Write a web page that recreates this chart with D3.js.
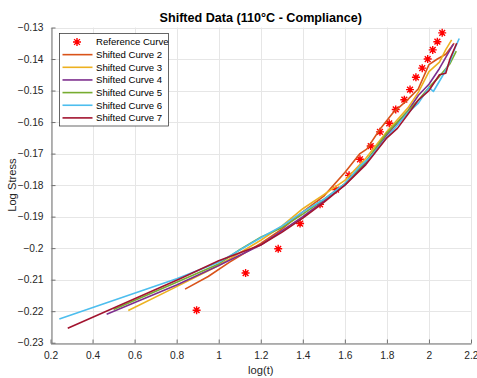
<!DOCTYPE html>
<html><head><meta charset="utf-8">
<script src="https://cdn.jsdelivr.net/npm/d3@7"></script>
<style>
body{margin:0;background:#fff;}
svg{display:block;font-family:"Liberation Sans",Arial,Helvetica,sans-serif;}
</style></head>
<body><svg id="c" width="477" height="378"></svg>
<script>
const xTicks = [0.2,0.4,0.6,0.8,1.0,1.2,1.4,1.6,1.8,2.0,2.2];
const yTicks = [-0.23,-0.22,-0.21,-0.20,-0.19,-0.18,-0.17,-0.16,-0.15,-0.14,-0.13];
const seriesNames = ["Reference Curve","Shifted Curve 2","Shifted Curve 3","Shifted Curve 4","Shifted Curve 5","Shifted Curve 6","Shifted Curve 7"];
const seriesColors = ["#FF0000","#D95319","#EDB120","#7E2F8E","#77AC30","#4DBEEE","#A2142F"];

const refX = [0.895,1.128,1.283,1.387,1.482,1.558,1.620,1.672,1.723,1.767,1.811,1.842,1.883,1.910,1.938,1.968,1.994,2.018,2.040,2.063];
const refY = [-0.2197,-0.2079,-0.2002,-0.1922,-0.1861,-0.1814,-0.1769,-0.1718,-0.1676,-0.1631,-0.1604,-0.1560,-0.1529,-0.1497,-0.1458,-0.1429,-0.1400,-0.1371,-0.1345,-0.1317];

const curve2X = [0.84,0.95,1.05,1.2,1.3,1.4,1.5,1.6,1.672,1.704,1.767,1.83,1.894,1.949,2.0,2.04,2.08,2.12];
const curve2Y = [-0.2130,-0.2090,-0.2045,-0.1985,-0.1940,-0.1885,-0.1835,-0.1760,-0.1700,-0.1686,-0.1623,-0.1570,-0.1532,-0.1495,-0.1418,-0.1400,-0.1385,-0.1350];

const curve3X = [0.57,0.8,1.0,1.2,1.3,1.4,1.5,1.6,1.7,1.8,1.9,1.95,2.0,2.05,2.08,2.108];
const curve3Y = [-0.2198,-0.2122,-0.2055,-0.1975,-0.1930,-0.1875,-0.1830,-0.1785,-0.1715,-0.1630,-0.1555,-0.1505,-0.1440,-0.1410,-0.1370,-0.1339];

const curve4X = [0.467,0.8,1.0,1.2,1.3,1.4,1.5,1.6,1.7,1.8,1.9,1.95,2.0,2.05,2.08,2.116];
const curve4Y = [-0.2210,-0.2117,-0.2055,-0.1990,-0.1945,-0.1900,-0.1850,-0.1800,-0.1730,-0.1640,-0.1565,-0.1515,-0.1480,-0.1430,-0.1395,-0.1353];

const curve5X = [0.50,0.8,1.0,1.1,1.2,1.3,1.4,1.5,1.6,1.7,1.8,1.9,1.95,2.0,2.05,2.1,2.13];
const curve5Y = [-0.2195,-0.2108,-0.2050,-0.2005,-0.1965,-0.1935,-0.1892,-0.1845,-0.1795,-0.1725,-0.1635,-0.1565,-0.1530,-0.1490,-0.1455,-0.1415,-0.1375];

const curve6X = [0.242,0.8,1.0,1.2,1.3,1.4,1.5,1.6,1.672,1.72,1.8,1.85,1.9,1.95,2.0,2.021,2.068,2.1,2.124,2.144];
const curve6Y = [-0.2225,-0.2097,-0.2045,-0.1967,-0.1930,-0.1885,-0.1845,-0.1795,-0.1740,-0.1712,-0.1648,-0.1610,-0.1570,-0.1540,-0.1490,-0.1503,-0.1450,-0.1408,-0.1365,-0.1335];

const curve7X = [0.282,0.816,1.0,1.2,1.3,1.4,1.5,1.6,1.7,1.8,1.85,1.9,1.95,2.0,2.05,2.08,2.10,2.132];
const curve7Y = [-0.2254,-0.2097,-0.2040,-0.1990,-0.1950,-0.1905,-0.1855,-0.1800,-0.1735,-0.1650,-0.1620,-0.1575,-0.1530,-0.1500,-0.1450,-0.1445,-0.1400,-0.1350];

const curvesX = [curve2X,curve3X,curve4X,curve5X,curve6X,curve7X];
const curvesY = [curve2Y,curve3Y,curve4Y,curve5Y,curve6Y,curve7Y];

const svg = d3.select("#c");
const L = 50.5, R = 471, T = 27.5, B = 342.7;
const x = d3.scaleLinear().domain([0.2,2.2]).range([L,R]);
const y = d3.scaleLinear().domain([-0.23,-0.13]).range([B,T]);

// grid
const g = svg.append("g");
g.selectAll(".gx").data(xTicks).enter().append("line")
 .attr("x1",d=>Math.round(x(d))+0.5).attr("x2",d=>Math.round(x(d))+0.5)
 .attr("y1",T).attr("y2",B).attr("stroke","#e6e6e6").attr("stroke-width",1);
g.selectAll(".gy").data(yTicks).enter().append("line")
 .attr("y1",d=>Math.round(y(d))+0.5).attr("y2",d=>Math.round(y(d))+0.5)
 .attr("x1",L).attr("x2",R).attr("stroke","#e6e6e6").attr("stroke-width",1);

// axes
const fmt = d => d3.format(".2~f")(d);
const xAxis = d3.axisBottom(x).tickValues(xTicks).tickFormat(fmt).tickSizeInner(-4).tickSizeOuter(0).tickPadding(8);
const yAxis = d3.axisLeft(y).tickValues(yTicks).tickFormat(fmt).tickSizeInner(-4).tickSizeOuter(0).tickPadding(8);
const gx = svg.append("g").attr("transform",`translate(0,${Math.round(B)+0.5})`).call(xAxis);
const gy = svg.append("g").attr("transform",`translate(${Math.round(L)+0.5},0)`).call(yAxis);
[gx,gy].forEach(a=>{
  a.select(".domain").attr("stroke","#707070");
  a.selectAll(".tick line").attr("stroke","#707070");
  a.selectAll(".tick text").attr("fill","#262626").attr("font-size",10.2).attr("font-family","Liberation Sans, Arial, sans-serif");
});
// keep the last x tick label inside the window
gx.selectAll(".tick text").filter(d=>d===2.2).attr("text-anchor","end").attr("dx","7");

// reference curve stars
function starPath(cx, cy, r){
  const d = r*0.72;
  return `M${cx-r},${cy}L${cx+r},${cy}M${cx},${cy-r}L${cx},${cy+r}M${cx-d},${cy-d}L${cx+d},${cy+d}M${cx-d},${cy+d}L${cx+d},${cy-d}`;
}
svg.append("g").selectAll("path").data(refX.map((v,i)=>[v,refY[i]])).enter().append("path")
 .attr("d",d=>starPath(x(d[0]),y(d[1]),4))
 .attr("stroke",seriesColors[0]).attr("stroke-width",1.4).attr("fill","none");

// shifted curves
const line = d3.line().x(d=>x(d[0])).y(d=>y(d[1]));
curvesX.forEach((cx,i)=>{
  svg.append("path").datum(cx.map((v,j)=>[v,curvesY[i][j]]))
   .attr("d",line).attr("fill","none").attr("stroke",seriesColors[i+1])
   .attr("stroke-width",1.6).attr("stroke-linejoin","round");
});

// title and labels
svg.append("text").attr("x",(L+R)/2).attr("y",22).attr("text-anchor","middle")
 .attr("font-size",12.6).attr("font-weight","bold").attr("fill","#000").text("Shifted Data (110°C - Compliance)");
svg.append("text").attr("x",(L+R)/2).attr("y",374).attr("text-anchor","middle")
 .attr("font-size",11.2).attr("fill","#262626").text("log(t)");
svg.append("text").attr("transform",`translate(16,${(T+B)/2}) rotate(-90)`).attr("text-anchor","middle")
 .attr("font-size",11.2).attr("fill","#262626").text("Log Stress");

// legend
const lg = svg.append("g");
lg.append("rect").attr("x",59.5).attr("y",33.5).attr("width",109).attr("height",92.5)
 .attr("fill","#fff").attr("stroke","#262626").attr("stroke-width",0.7);
seriesNames.forEach((n,i)=>{
  const yy = 42 + i*12.65;
  if(i===0){
    lg.append("path").attr("d",starPath(77,yy,4)).attr("stroke",seriesColors[0]).attr("stroke-width",1.4);
  } else {
    lg.append("line").attr("x1",62.5).attr("x2",92.5).attr("y1",yy).attr("y2",yy)
      .attr("stroke",seriesColors[i]).attr("stroke-width",1.6);
  }
  lg.append("text").attr("x",96).attr("y",yy+3.4).attr("font-size",9.6).attr("fill","#000").text(n);
});
</script></body></html>
